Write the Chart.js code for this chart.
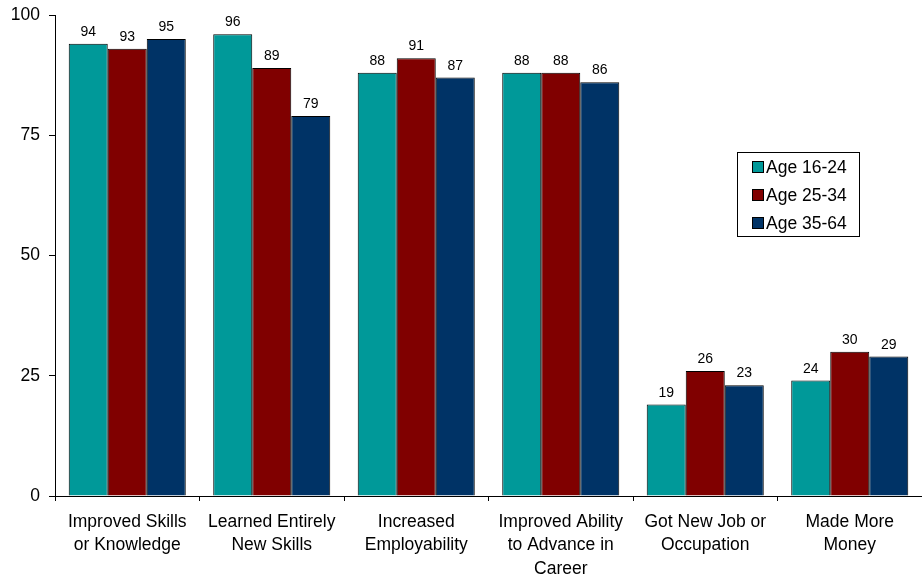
<!DOCTYPE html>
<html>
<head>
<meta charset="utf-8">
<script src="https://cdn.jsdelivr.net/npm/chart.js@4"></script>
<style>
  body { margin: 0; background: #fff; }
  canvas { display: block; }
</style>
</head>
<body>
<canvas id="outcomeChart" width="922" height="577"></canvas>
<script>
const categories = [
    ['Improved Skills', 'or Knowledge'],
    ['Learned Entirely', 'New Skills'],
    ['Increased', 'Employability'],
    ['Improved Ability', 'to Advance in', 'Career'],
    ['Got New Job or', 'Occupation'],
    ['Made More', 'Money']
];
const seriesNames = ['Age 16-24', 'Age 25-34', 'Age 35-64'];
const age16to24 = [94, 96, 88, 88, 19, 24];
const age25to34 = [93, 89, 91, 88, 26, 30];
const age35to64 = [95, 79, 87, 86, 23, 29];
const yTicks = [0, 25, 50, 75, 100];
const seriesColors = ['#009999', '#800000', '#003366'];

const FONT = "'Liberation Sans', Arial, sans-serif";

// value labels above each bar
const valueLabels = {
    id: 'valueLabels',
    afterDatasetsDraw(chart) {
        const c = chart.ctx;
        c.save();
        c.font = '14px ' + FONT;
        c.fillStyle = '#000';
        c.textAlign = 'center';
        c.textBaseline = 'alphabetic';
        chart.data.datasets.forEach((ds, i) => {
            chart.getDatasetMeta(i).data.forEach((bar, j) => {
                c.fillText(ds.data[j], bar.x, bar.y - 8);
            });
        });
        c.restore();
    }
};

// boxed legend sitting inside the plot on the right
const boxLegend = {
    id: 'boxLegend',
    afterDraw(chart) {
        const c = chart.ctx;
        const x = 737, y = 152, w = 122, h = 84;
        c.save();
        c.fillStyle = '#fff';
        c.fillRect(x, y, w, h);
        c.strokeStyle = '#000';
        c.lineWidth = 1;
        c.strokeRect(x + 0.5, y + 0.5, w, h);
        c.font = '17.5px ' + FONT;
        c.textBaseline = 'middle';
        chart.data.datasets.forEach((ds, i) => {
            const ry = y + 15 + i * 28;
            c.fillStyle = ds.backgroundColor;
            c.fillRect(x + 15, ry - 6, 12, 12);
            c.strokeStyle = '#000';
            c.strokeRect(x + 15.5, ry - 5.5, 11, 11);
            c.fillStyle = '#000';
            c.fillText(ds.label, x + 29, ry + 1);
        });
        c.restore();
    }
};

const ctx = document.getElementById('outcomeChart').getContext('2d');
const outcomeChart = new Chart(ctx, {
    type: 'bar',
    data: {
        labels: categories,
        datasets: [age16to24, age25to34, age35to64].map((vals, i) => ({
            label: seriesNames[i],
            data: vals,
            backgroundColor: seriesColors[i],
            borderColor: '#000',
            borderWidth: 1,
            categoryPercentage: 0.81,
            barPercentage: 1
        }))
    },
    options: {
        responsive: false,
        animation: false,
        layout: { padding: { top: 15, right: 0, left: 0, bottom: 0 } },
        plugins: {
            legend: { display: false },
            tooltip: { enabled: false }
        },
        scales: {
            x: {
                grid: { drawOnChartArea: false, color: '#000', tickLength: 5, offset: true },
                border: { color: '#000' },
                ticks: {
                    color: '#000',
                    font: { family: FONT, size: 17.5, lineHeight: 1.32 },
                    maxRotation: 0,
                    padding: 10
                },
                afterFit(scale) { scale.height = 81; }
            },
            y: {
                min: 0,
                max: 100,
                afterBuildTicks(scale) { scale.ticks = yTicks.map(v => ({ value: v })); },
                grid: { drawOnChartArea: false, color: '#000', tickLength: 6 },
                border: { color: '#000' },
                ticks: {
                    color: '#000',
                    font: { family: FONT, size: 17.5 },
                    padding: 9
                },
                afterFit(scale) {
                    scale.width = 55;
                    scale.paddingTop = 0;
                    scale.paddingBottom = 0;
                }
            }
        }
    },
    plugins: [valueLabels, boxLegend]
});
</script>
</body>
</html>
